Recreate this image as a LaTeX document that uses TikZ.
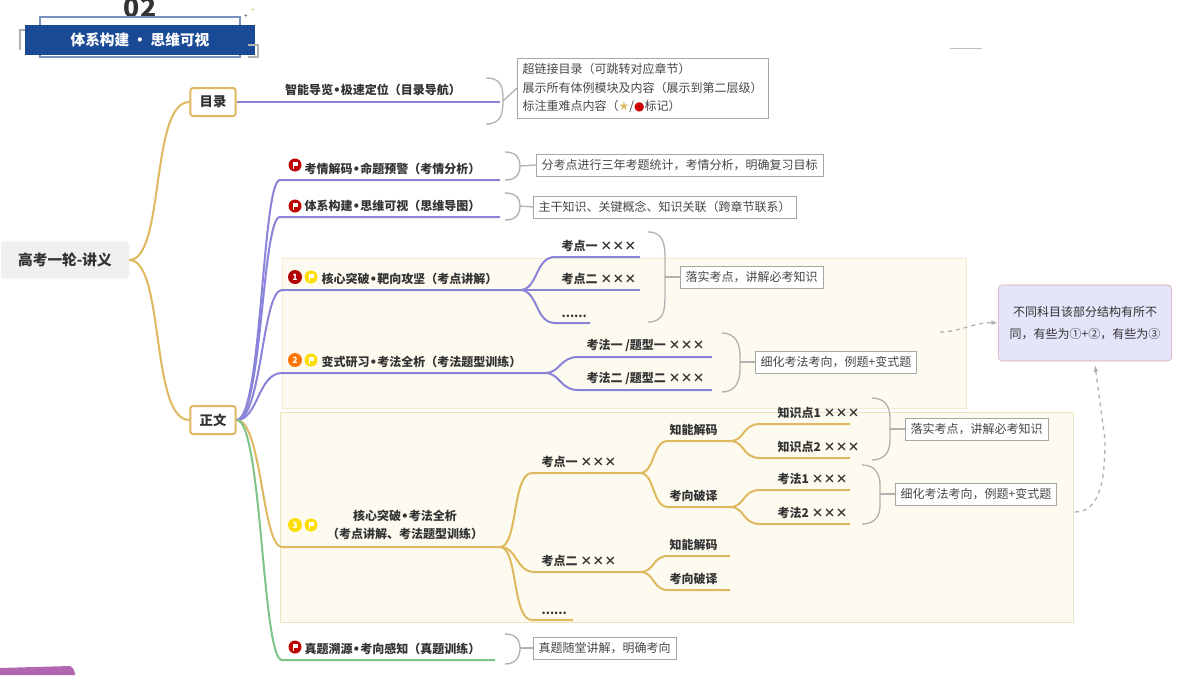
\documentclass[tikz,border=0pt]{standalone}
\usepackage{fontspec}
\setmainfont{Noto Sans CJK SC}
\newfontfamily\dv{DejaVu Sans}
\newcommand\bul{{\dv\bfseries •}}
\usetikzlibrary{arrows.meta,calc}
\definecolor{gold}{HTML}{E0B860}
\definecolor{pur}{HTML}{8A84D8}
\definecolor{grn}{HTML}{7CC48A}
\definecolor{navy}{HTML}{1A4A96}
\definecolor{txt}{HTML}{333333}
\newcommand\flagic[2]{\fill[#2] (#1) circle (6.5); \fill[white] ($(#1)+(-2,-3.5)$) rectangle ($(#1)+(3,1)$); \draw[white,line width=0.7pt] ($(#1)+(-2,-3.5)$) -- ($(#1)+(-2,4)$);}
\newcommand\numic[3]{\fill[#2] (#1) circle (7); \node[text=white,font=\fontsize{6.5}{6.5}\selectfont\bfseries,inner sep=0] at (#1) {#3};}
\begin{document}
\begin{tikzpicture}[x=0.75pt,y=-0.75pt,
  lbl/.style={font=\fontsize{9}{11}\selectfont\bfseries,text=txt,inner sep=1pt},
  note/.style={draw=gray!70,fill=white,font=\fontsize{9}{14}\selectfont,text=txt!90,inner sep=4pt,align=left,anchor=west},
  box/.style={draw=gold,line width=1.5pt,fill=white,rounded corners=2pt,minimum width=34pt,minimum height=21pt,font=\fontsize{10}{12}\selectfont\bfseries,text=txt},
  br/.style={line width=1pt,gray!60},
  G/.style={gold,line width=1.5pt},
  P/.style={pur,line width=1.5pt},
  Gr/.style={grn,line width=1.5pt}]
\useasboundingbox (0,0) rectangle (1200,675);
\fill[white] (0,0) rectangle (1200,675);
\draw[fill={rgb,255:red,253;green,251;blue,240},draw={rgb,255:red,240;green,234;blue,208}] (282,258) rectangle (966,408);
\draw[fill={rgb,255:red,253;green,251;blue,240},draw={rgb,255:red,235;green,228;blue,195}] (280,412) rectangle (1073,622);
% header
\node[font=\fontsize{20}{20}\selectfont\bfseries,text=txt] (num) at (140,8) {02};
\draw[gray!60,line width=1pt] (31,30) -- (20,30) -- (20,50);
\draw[navy!60,line width=0.8pt] (40,17) rectangle (240,57);
\node[fill=navy,text=white,minimum width=172pt,minimum height=22pt,font=\fontsize{11}{12}\selectfont\bfseries] (hdr) at (140,40) {体系构建 · 思维可视};
\draw[gray!60,line width=1pt] (248,45) -- (258,45) -- (258,57) -- (248,57);
\node[text=txt,font=\tiny] (st) at (246,16) {+};
\node[text=gold,font=\tiny] (st2) at (253,10) {+};
\draw[gray!50] (950,48) -- (982,48);
\fill[violet!60] (0,668) -- (70,666) .. controls (75,668) and (75,675) .. (75,675) -- (0,675) -- cycle;
% root and boxes
\node[fill=gray!12,rounded corners=3pt,minimum width=96pt,minimum height=28pt,font=\fontsize{11}{12}\selectfont\bfseries,text=txt] (root) at (65,260) {高考一轮-讲义};
\node[box] (ml) at (213,102) {目录};
\node[box] (zw) at (213,420) {正文};
\draw[G] (root.east) .. controls (165,260) and (150,102) .. (ml.west);
\draw[G] (root.east) .. controls (165,260) and (150,420) .. (zw.west);
% 目录 branch
\coordinate (mlE) at (500,102);
\draw[P] (ml.east) -- (mlE);
\node[lbl,anchor=south] (mlL) at (373,97) {智能导览\bul 极速定位（目录导航）};
\node[note] (mlN) at (517,88) {超链接目录（可跳转对应章节）\\展示所有体例模块及内容（展示到第二层级）\\标注重难点内容（{\dv\textcolor{gold}{★}}/{\dv\textcolor{red!80!black}{●}}标记）};
\draw[br] (486,78) .. controls (502,78) and (503,88) .. (503,100) .. controls (503,112) and (502,124) .. (486,124);
\draw[br] (503,101) -- (mlN.west);
% branch 1
\coordinate (b1E) at (500,180);
\draw[P] (zw.east) .. controls (262,420) and (262,180) .. (280,180) -- (b1E);
\node[lbl,anchor=south west] (b1L) at (303,176) {考情解码\bul 命题预警（考情分析）};
\flagic{295,165}{red!75!black}
\node[note] (b1N) at (536,165) {分考点进行三年考题统计，考情分析，明确复习目标};
\draw[br] (505,152) .. controls (518,152) and (520,160) .. (520,166) .. controls (520,172) and (518,180) .. (505,180);
\draw[br] (520,166) -- (b1N.west);
% branch 2
\coordinate (b2E) at (500,217);
\draw[P] (zw.east) .. controls (262,420) and (262,217) .. (280,217) -- (b2E);
\node[lbl,anchor=south west] (b2L) at (303,213) {体系构建\bul 思维可视（思维导图）};
\flagic{295,206}{red!75!black}
\node[note] (b2N) at (533,207) {主干知识、关键概念、知识关联（跨章节联系）};
\draw[br] (505,193) .. controls (518,193) and (520,200) .. (520,206) .. controls (520,212) and (518,220) .. (505,220);
\draw[br] (520,206) -- (b2N.west);
% branch 3
\coordinate (b3J) at (520,290);
\draw[P] (zw.east) .. controls (262,420) and (262,290) .. (282,290) -- (b3J);
\node[lbl,anchor=south west] (b3L) at (320,286) {核心突破\bul 靶向攻坚（考点讲解）};
\numic{295,277}{red!70!black}{1}
\flagic{311,277}{yellow!80!orange}
\coordinate (k1) at (640,257); \coordinate (k2) at (640,290); \coordinate (k3) at (590,323);
\draw[P] (b3J) .. controls (538,290) and (535,257) .. (555,257) -- (k1);
\draw[P] (b3J) -- (k2);
\draw[P] (b3J) .. controls (538,290) and (535,323) .. (555,323) -- (k3);
\node[lbl,anchor=south west] (k1L) at (560,253) {考点一 ×××};
\node[lbl,anchor=south west] (k2L) at (560,286) {考点二 ×××};
\node[lbl,anchor=south west] (k3L) at (560,319) {......};
\node[note] (b3N) at (680,277) {落实考点，讲解必考知识};
\draw[br] (648,232) .. controls (664,232) and (665,245) .. (665,260) -- (665,295) .. controls (665,310) and (664,322) .. (648,322);
\draw[br] (665,277) -- (b3N.west);
% branch 4
\coordinate (b4J) at (545,373);
\draw[P] (zw.east) .. controls (258,420) and (258,373) .. (282,373) -- (b4J);
\node[lbl,anchor=south west] (b4L) at (320,369) {变式研习\bul 考法全析（考法题型训练）};
\numic{295,360}{orange!90!red}{2}
\flagic{311,360}{yellow!80!orange}
\coordinate (f1) at (712,357); \coordinate (f2) at (712,390);
\draw[P] (b4J) .. controls (560,373) and (560,357) .. (578,357) -- (f1);
\draw[P] (b4J) .. controls (560,373) and (560,390) .. (578,390) -- (f2);
\node[lbl,anchor=south west] (f1L) at (585,353) {考法一 /题型一 ×××};
\node[lbl,anchor=south west] (f2L) at (585,386) {考法二 /题型二 ×××};
\node[note] (b4N) at (755,362) {细化考法考向，例题+变式题};
\draw[br] (722,333) .. controls (736,333) and (740,345) .. (740,355) -- (740,370) .. controls (740,380) and (736,392) .. (722,392);
\draw[br] (740,362) -- (b4N.west);
% branch 5
\coordinate (b5J) at (500,547);
\draw[G] (zw.east) .. controls (262,420) and (262,547) .. (282,547) -- (b5J);
\node[lbl,align=center] (b5L) at (405,525) {核心突破\bul 考法全析\\[3pt]（考点讲解、考法题型训练）};
\numic{295,525}{yellow!80!orange}{3}
\flagic{311,525}{yellow!80!orange}
\coordinate (p1) at (640,473); \coordinate (p2) at (640,572); \coordinate (p3) at (573,620);
\draw[G] (b5J) .. controls (518,547) and (512,473) .. (532,473) -- (p1);
\draw[G] (b5J) .. controls (518,547) and (515,572) .. (535,572) -- (p2);
\draw[G] (b5J) .. controls (518,547) and (512,620) .. (532,620) -- (p3);
\node[lbl,anchor=south west] (p1L) at (540,469) {考点一 ×××};
\node[lbl,anchor=south west] (p2L) at (540,568) {考点二 ×××};
\node[lbl,anchor=south west] (p3L) at (540,616) {......};
\coordinate (q1) at (730,441); \coordinate (q2) at (730,507);
\coordinate (q3) at (730,556); \coordinate (q4) at (730,590);
\draw[G] (p1) .. controls (655,473) and (652,441) .. (668,441) -- (q1);
\draw[G] (p1) .. controls (655,473) and (652,507) .. (668,507) -- (q2);
\draw[G] (p2) .. controls (655,572) and (652,556) .. (668,556) -- (q3);
\draw[G] (p2) .. controls (655,572) and (652,590) .. (668,590) -- (q4);
\node[lbl,anchor=south west] (q1L) at (668,437) {知能解码};
\node[lbl,anchor=south west] (q2L) at (668,503) {考向破译};
\node[lbl,anchor=south west] (q3L) at (668,552) {知能解码};
\node[lbl,anchor=south west] (q4L) at (668,586) {考向破译};
\coordinate (r1) at (850,424); \coordinate (r2) at (850,458);
\coordinate (r3) at (850,490); \coordinate (r4) at (850,524);
\draw[G] (q1) .. controls (745,441) and (742,424) .. (760,424) -- (r1);
\draw[G] (q1) .. controls (745,441) and (742,458) .. (760,458) -- (r2);
\draw[G] (q2) .. controls (745,507) and (742,490) .. (760,490) -- (r3);
\draw[G] (q2) .. controls (745,507) and (742,524) .. (760,524) -- (r4);
\node[lbl,anchor=south west] (r1L) at (776,420) {知识点1 ×××};
\node[lbl,anchor=south west] (r2L) at (776,454) {知识点2 ×××};
\node[lbl,anchor=south west] (r3L) at (776,486) {考法1 ×××};
\node[lbl,anchor=south west] (r4L) at (776,520) {考法2 ×××};
\node[note] (n5a) at (905,429) {落实考点，讲解必考知识};
\node[note] (n5b) at (895,494) {细化考法考向，例题+变式题};
\draw[br] (872,398) .. controls (886,398) and (890,408) .. (890,418) -- (890,440) .. controls (890,450) and (886,460) .. (872,460);
\draw[br] (890,429) -- (n5a.west);
\draw[br] (862,465) .. controls (876,465) and (880,475) .. (880,485) -- (880,505) .. controls (880,515) and (876,524) .. (862,524);
\draw[br] (880,494) -- (n5b.west);
% branch 6
\coordinate (b6E) at (495,660);
\draw[Gr] (zw.east) .. controls (262,420) and (262,660) .. (282,660) -- (b6E);
\node[lbl,anchor=south west] (b6L) at (303,656) {真题溯源\bul 考向感知（真题训练）};
\flagic{295,647}{red!75!black}
\node[note] (b6N) at (533,648) {真题随堂讲解，明确考向};
\draw[br] (505,634) .. controls (518,634) and (520,642) .. (520,648) .. controls (520,654) and (518,664) .. (505,664);
\draw[br] (520,648) -- (b6N.west);
% side note
\node[draw={rgb,255:red,224;green,160;blue,176},fill={rgb,255:red,228;green,228;blue,250},rounded corners=3pt,minimum width=130pt,minimum height=57pt,align=center,font=\fontsize{9}{16}\selectfont,text=txt] (side) at (1085,323) {不同科目该部分结构有所不\\同，有些为①+②，有些为③};
\coordinate (d1) at (940,332);
\coordinate (d2) at (1075,512);
\draw[gray!60,dashed,line width=1pt,-{Latex[length=5pt]}] (d1) .. controls (960,332) and (975,322) .. (side.west);
\draw[gray!60,dashed,line width=1pt,-{Latex[length=5pt]}] (d2) .. controls (1100,512) and (1105,480) .. (1105,440) -- (1095,365);
\end{tikzpicture}
\end{document}
